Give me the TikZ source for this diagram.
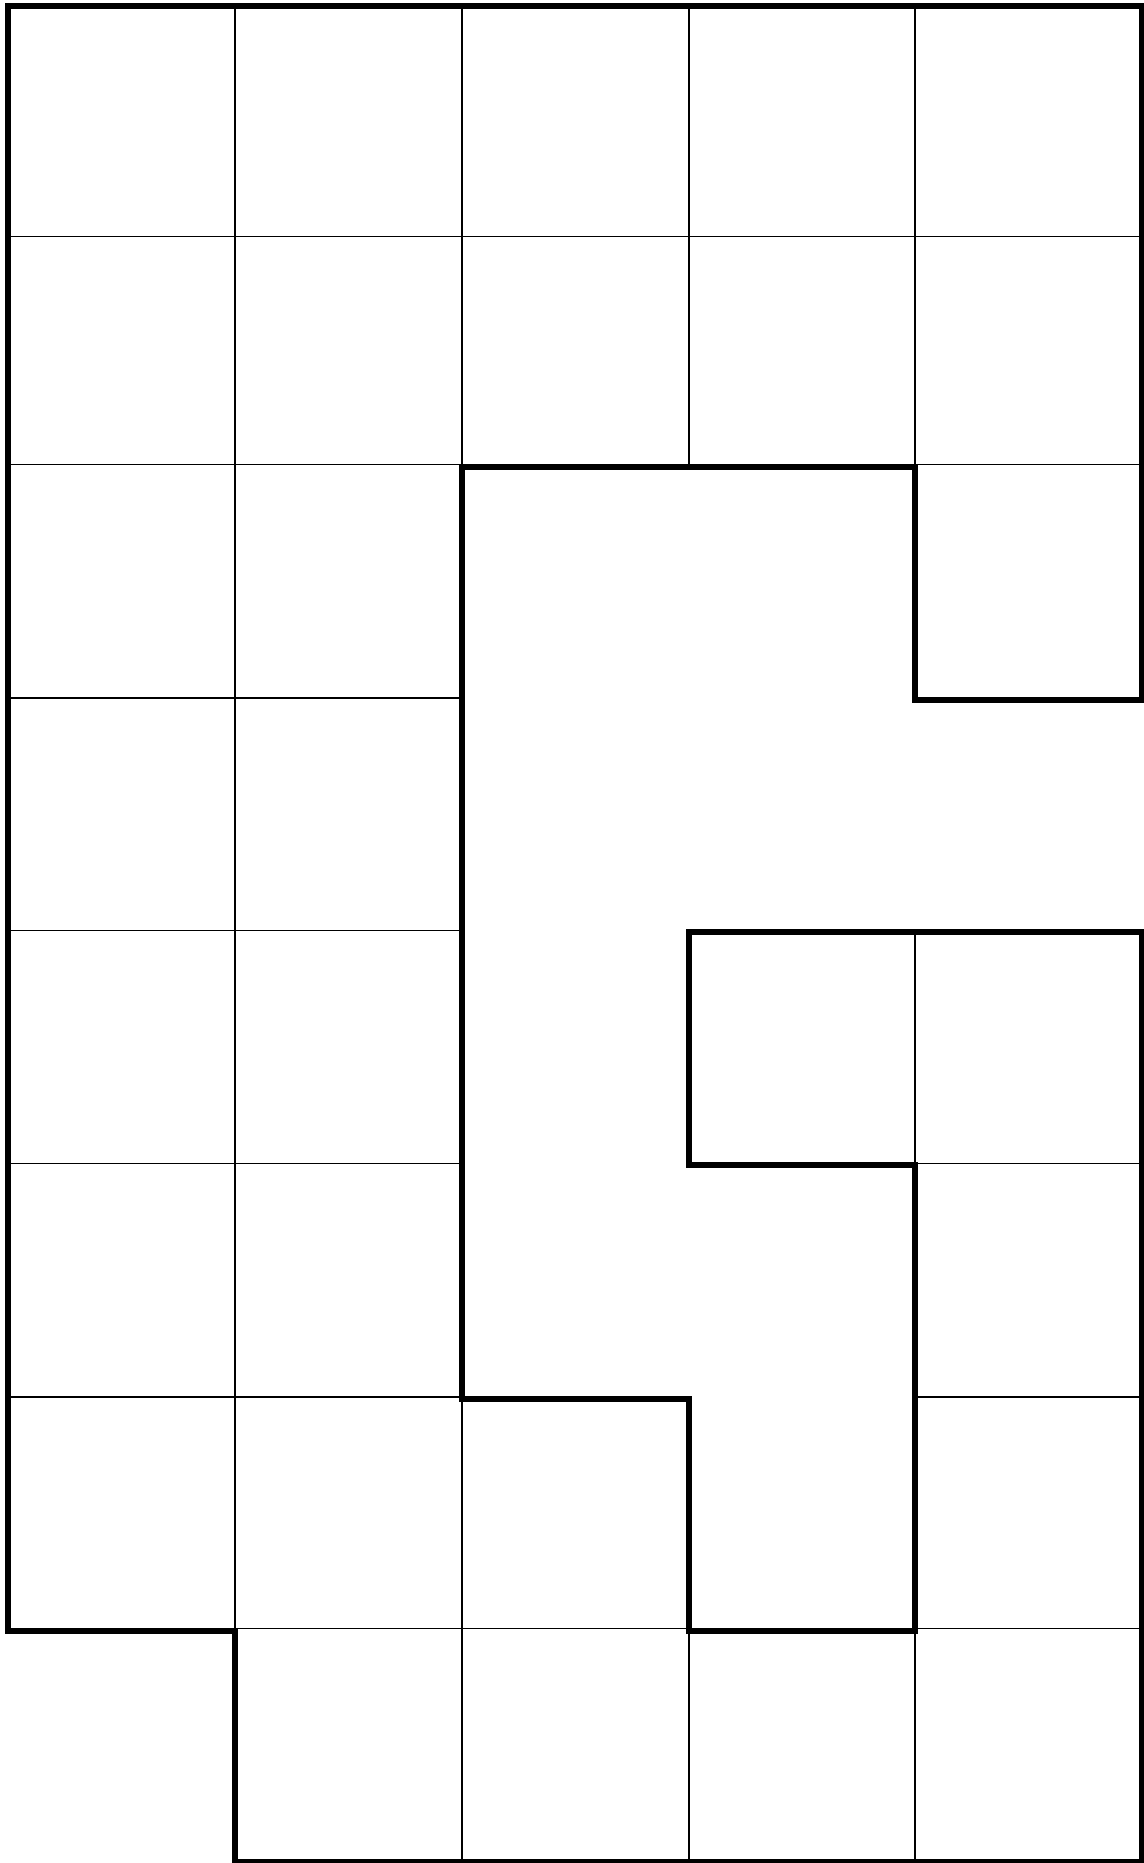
\documentclass[tikz,border=0pt]{standalone}
\begin{document}
\begin{tikzpicture}[x=0.5pt,y=-0.5pt,
  thinline/.style={line width=0.75pt,black},
  thickline/.style={line width=3pt,black,line join=miter,line cap=rect},
  holefill/.style={fill=white,draw=none}]
\useasboundingbox (0,0) rectangle (1144,1863);
% thin grid
\foreach \yy in {6,236.7,464.5,698,930.3,1163.3,1397,1628.5,1862}
  \draw[thinline] (8,\yy) -- (1141.5,\yy);
\foreach \xx in {8,235,462,689,915,1141.5}
  \draw[thinline] (\xx,6) -- (\xx,1862);
% missing cells
\fill[holefill] (462,464.5) rectangle (915,698);
\fill[holefill] (462,698) rectangle (1144,930.3);
\fill[holefill] (462,930.3) rectangle (689,1163.3);
\fill[holefill] (462,1163.3) rectangle (915,1397);
\fill[holefill] (689,1397) rectangle (915,1628.5);
\fill[holefill] (0,1628.5) rectangle (235,1863);
% thick outline
\draw[thickline] (8,6) -- (1141.5,6) -- (1141.5,700) -- (915,700) -- (915,467)
  -- (462,467) -- (462,1399) -- (689,1399) -- (689,1630.5) -- (915,1630.5)
  -- (915,1165) -- (689,1165) -- (689,932) -- (1141.5,932) -- (1141.5,1862)
  -- (235,1862) -- (235,1630.5) -- (8,1630.5) -- cycle;
\end{tikzpicture}
\end{document}
